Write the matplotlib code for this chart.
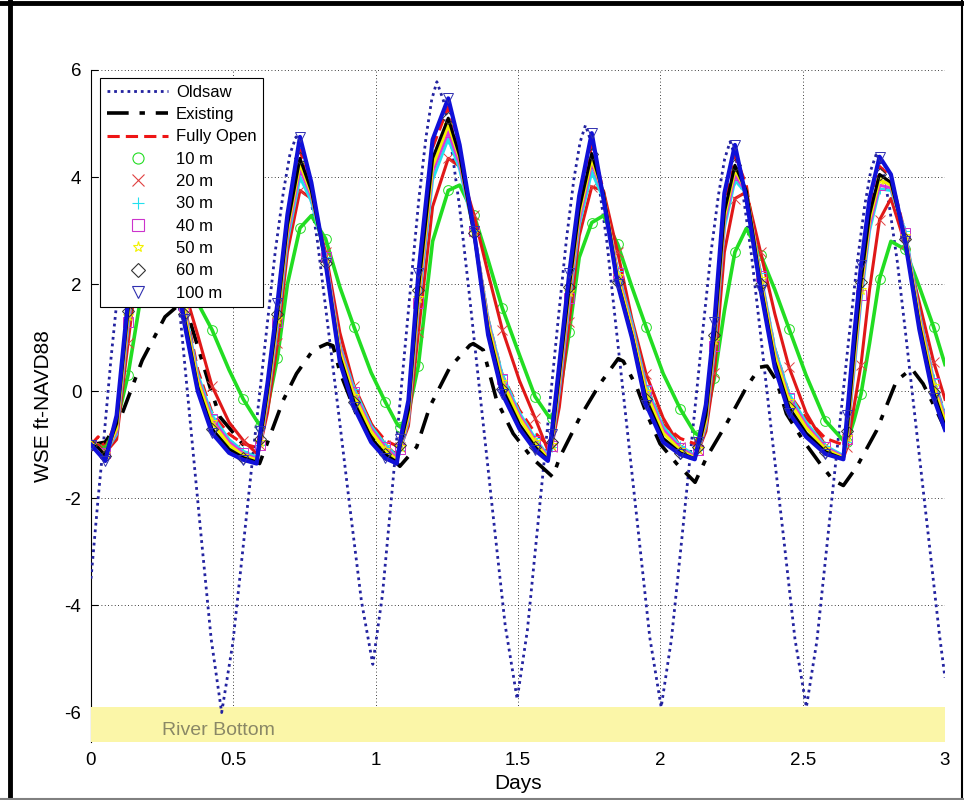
import matplotlib
matplotlib.use("Agg")
import matplotlib.pyplot as plt
from matplotlib.lines import Line2D
from matplotlib.patches import Rectangle

plt.rcParams['font.family'] = ['Liberation Sans', 'DejaVu Sans']

# ---------------- data ----------------
t_old = [0.0, 0.025, 0.045, 0.07, 0.095, 0.12, 0.15, 0.18, 0.21,
         0.230, 0.252, 0.280, 0.310, 0.347, 0.384, 0.422, 0.459,
         0.498, 0.537, 0.576, 0.616, 0.647, 0.676, 0.699, 0.72,
         0.742, 0.766, 0.796, 0.828, 0.869, 0.909, 0.950, 0.99,
         1.024, 1.058, 1.091, 1.125, 1.152, 1.177, 1.197, 1.215,
         1.238, 1.263, 1.294, 1.328, 1.370, 1.412, 1.455, 1.497,
         1.533, 1.569, 1.605, 1.641, 1.670, 1.696, 1.718, 1.737,
         1.758, 1.782, 1.812, 1.843, 1.883, 1.923, 1.963, 2.003,
         2.039, 2.076, 2.112, 2.148, 2.177, 2.204, 2.226, 2.245,
         2.266, 2.291, 2.320, 2.352, 2.392, 2.433, 2.473, 2.513,
         2.550, 2.587, 2.624, 2.661, 2.691, 2.718, 2.740, 2.76,
         2.781, 2.804, 2.833, 2.864, 2.903, 2.942, 2.981, 3.0]
wse_oldsaw = [-3.5, -2.0, -0.9, 0.6, 1.9, 3.1, 4.3, 5.1, 5.5,
              5.16, 4.41, 3.2, 1.59, -0.48, -2.55, -4.62, -6.0,
              -4.71, -2.78, -0.84, 1.10, 2.6, 3.73, 4.43, 4.75,
              4.45, 3.81, 2.78, 1.40, -0.37, -2.15, -3.92, -5.1,
              -3.79, -1.84, 0.12, 2.08, 3.60, 4.75, 5.45, 5.78,
              5.43, 4.68, 3.47, 1.86, -0.22, -2.29, -4.37, -5.75,
              -4.46, -2.53, -0.60, 1.33, 2.83, 3.95, 4.65, 4.97,
              4.64, 3.94, 2.80, 1.27, -0.68, -2.64, -4.60, -5.9,
              -4.63, -2.73, -0.83, 1.07, 2.55, 3.66, 4.34, 4.66,
              4.34, 3.66, 2.55, 1.07, -0.83, -2.73, -4.63, -5.9,
              -4.66, -2.79, -0.93, 0.93, 2.38, 3.47, 4.14, 4.45,
              4.14, 3.48, 2.40, 0.97, -0.88, -2.72, -4.57, -5.35]

t_exist = [0.0, 0.05, 0.1, 0.18, 0.26, 0.31, 0.34, 0.418, 0.453, 0.512, 0.57, 0.592,
           0.617, 0.675, 0.722, 0.78, 0.83, 0.85, 0.875, 0.93, 1.015, 1.085,
           1.144, 1.19, 1.261, 1.331, 1.343, 1.378, 1.425, 1.483, 1.55, 1.622,
           1.647, 1.718, 1.788, 1.852, 1.87, 1.917, 1.952, 1.999, 2.057, 2.122,
           2.163, 2.233, 2.303, 2.35, 2.375, 2.408, 2.443, 2.502, 2.561, 2.607, 2.643,
           2.69, 2.76, 2.83, 2.883, 2.923, 2.97, 3.0]
wse_existing = [-1.0, -0.95, -0.55, 0.58, 1.39, 1.62, 1.45, 0.08, -0.48, -0.85, -1.23, -1.35,
                -1.0, -0.17, 0.33, 0.77, 0.89, 0.85, 0.35, -0.4, -1.04, -1.4,
                -1.04, -0.29, 0.45, 0.86, 0.89, 0.77, -0.17, -0.79, -1.25, -1.6,
                -1.23, -0.48, 0.14, 0.61, 0.56, 0.08, -0.42, -0.98, -1.35, -1.7,
                -1.23, -0.6, 0.08, 0.45, 0.47, 0.2, -0.42, -0.92, -1.35, -1.66, -1.76,
                -1.41, -0.73, 0.2, 0.42, 0.14, -0.36, -0.7]

t_model = [0.0, 0.025, 0.05, 0.09, 0.13, 0.17, 0.225, 0.275, 0.325, 0.375, 0.425, 0.485, 0.535, 0.582,
           0.595, 0.62, 0.655, 0.69, 0.734, 0.774, 0.824, 0.874, 0.924, 0.984, 1.034, 1.074,
           1.087, 1.115, 1.15, 1.2, 1.255, 1.295, 1.345, 1.395, 1.445, 1.505, 1.56, 1.605,
           1.618, 1.645, 1.68, 1.715, 1.759, 1.8, 1.85, 1.9, 1.95, 2.01, 2.07, 2.121,
           2.134, 2.16, 2.19, 2.225, 2.262, 2.302, 2.352, 2.402, 2.452, 2.512, 2.58, 2.643,
           2.656, 2.68, 2.705, 2.735, 2.77, 2.81, 2.86, 2.91, 2.96, 3.0]

wse_fully_open = [-1.0, -0.85, -1.05, -0.55, 1.6, 3.3, 4.35, 3.3, 1.7, 0.4, -0.4, -0.8, -0.98, -1.05,
                  -0.75, 0.05, 1.55, 3.2, 4.5, 3.85, 2.45, 0.85, 0.05, -0.6, -0.92, -1.02,
                  -0.85, -0.25, 2.05, 4.55, 5.31, 4.55, 3.0, 1.35, 0.3, -0.35, -0.78, -1.0,
                  -0.85, 0.4, 2.05, 3.5, 4.6, 3.75, 2.2, 1.25, 0.1, -0.62, -0.88, -0.98,
                  -0.85, -0.35, 1.15, 3.55, 4.41, 3.85, 2.15, 0.8, -0.05, -0.5, -0.88, -1.0,
                  -0.6, 0.85, 2.2, 3.45, 4.2, 4.0, 2.95, 1.45, 0.22, -0.42]
wse_10m = [-1.0, -1.0, -1.1, -0.6, 0.3, 1.6, 2.9, 3.1, 2.3, 1.65, 1.15, 0.4, -0.15, -0.55,
           -0.64, -0.3, 0.62, 2.0, 3.05, 3.28, 2.85, 1.95, 1.2, 0.35, -0.2, -0.6,
           -0.67, -0.4, 0.48, 2.8, 3.75, 3.85, 3.3, 2.45, 1.55, 0.68, -0.1, -0.45,
           -0.5, -0.1, 1.1, 2.5, 3.15, 3.28, 2.75, 1.95, 1.2, 0.33, -0.33, -0.78,
           -0.82, -0.5, 0.25, 1.5, 2.6, 3.04, 2.55, 1.9, 1.17, 0.3, -0.55, -0.92,
           -0.95, -0.55, -0.05, 0.9, 2.1, 2.8, 2.65, 1.95, 1.2, 0.5]
wse_20m = [-1.0, -1.0, -1.15, -0.9, 0.9, 2.6, 3.7, 3.4, 1.95, 1.05, 0.1, -0.58, -0.92, -1.16,
           -1.0, -0.4, 0.9, 2.6, 3.75, 3.6, 2.6, 1.1, 0.1, -0.6, -1.0, -1.2,
           -1.05, -0.65, 1.1, 3.45, 4.35, 4.2, 3.3, 2.2, 1.15, 0.2, -0.5, -1.1,
           -1.05, -0.3, 1.3, 2.9, 3.82, 3.75, 2.6, 1.35, 0.32, -0.5, -1.04, -1.25,
           -1.1, -0.75, 0.35, 2.6, 3.6, 3.72, 2.6, 1.45, 0.45, -0.4, -1.02, -1.25,
           -1.05, -0.3, 0.5, 1.9, 3.2, 3.6, 2.75, 1.65, 0.55, -0.15]
wse_30m = [-1.0, -1.05, -1.15, -0.8, 1.2, 2.9, 3.9, 3.3, 1.65, 0.32, -0.45, -0.9, -1.12, -1.23,
           -1.0, -0.2, 1.2, 2.8, 4.0, 3.55, 2.5, 0.85, 0.05, -0.65, -1.0, -1.22,
           -1.1, -0.55, 1.55, 3.95, 4.72, 4.15, 3.0, 1.35, 0.3, -0.4, -0.88, -1.2,
           -1.05, 0.0, 1.65, 3.1, 4.1, 3.6, 2.25, 1.28, 0.1, -0.66, -1.02, -1.2,
           -1.1, -0.65, 0.75, 3.05, 3.94, 3.7, 2.2, 0.8, -0.05, -0.58, -1.02, -1.2,
           -0.95, 0.35, 1.7, 3.0, 3.78, 3.75, 3.0, 1.45, 0.22, -0.45]
wse_40m = [-1.0, -1.05, -1.15, -0.75, 1.3, 3.0, 4.0, 3.3, 1.6, 0.25, -0.52, -0.95, -1.16, -1.26,
           -1.0, -0.15, 1.3, 2.9, 4.15, 3.65, 2.5, 0.8, -0.02, -0.7, -1.05, -1.25,
           -1.08, -0.5, 1.65, 4.1, 4.85, 4.25, 3.0, 1.3, 0.22, -0.45, -0.92, -1.22,
           -1.03, 0.1, 1.75, 3.2, 4.26, 3.68, 2.2, 1.2, 0.03, -0.72, -1.06, -1.22,
           -1.1, -0.6, 0.85, 3.15, 4.04, 3.72, 2.15, 0.72, -0.13, -0.63, -1.05, -1.22,
           -0.9, 0.45, 1.8, 3.1, 3.85, 3.8, 2.95, 1.4, 0.15, -0.5]
wse_50m = [-1.0, -1.05, -1.18, -0.7, 1.4, 3.1, 4.1, 3.3, 1.55, 0.2, -0.58, -1.0, -1.2, -1.28,
           -0.95, -0.1, 1.35, 3.0, 4.25, 3.7, 2.45, 0.75, -0.08, -0.75, -1.1, -1.28,
           -1.05, -0.45, 1.75, 4.2, 4.97, 4.35, 2.98, 1.25, 0.18, -0.5, -0.95, -1.25,
           -1.0, 0.2, 1.85, 3.3, 4.33, 3.7, 2.15, 1.15, -0.02, -0.78, -1.1, -1.24,
           -1.08, -0.55, 0.95, 3.25, 4.13, 3.75, 2.1, 0.68, -0.18, -0.68, -1.08, -1.24,
           -0.85, 0.55, 1.9, 3.2, 3.95, 3.85, 2.9, 1.35, 0.1, -0.55]
wse_60m = [-1.0, -1.05, -1.2, -0.6, 1.5, 3.2, 4.2, 3.3, 1.45, 0.08, -0.7, -1.08, -1.24, -1.32,
           -0.9, 0.0, 1.45, 3.1, 4.35, 3.75, 2.4, 0.65, -0.2, -0.87, -1.18, -1.32,
           -1.0, -0.35, 1.9, 4.35, 5.1, 4.4, 2.95, 1.15, 0.05, -0.62, -1.04, -1.28,
           -0.95, 0.3, 1.95, 3.4, 4.44, 3.7, 2.05, 1.05, -0.15, -0.88, -1.15, -1.26,
           -1.05, -0.45, 1.05, 3.35, 4.22, 3.75, 2.0, 0.55, -0.3, -0.78, -1.13, -1.26,
           -0.75, 0.7, 2.05, 3.3, 4.05, 3.9, 2.85, 1.25, -0.02, -0.65]
wse_100m = [-1.0, -1.15, -1.3, -0.45, 1.7, 3.4, 4.5, 3.2, 1.35, 0.0, -0.78, -1.15, -1.28, -1.35,
            -0.75, 0.15, 1.65, 3.3, 4.75, 3.9, 2.4, 0.55, -0.3, -0.95, -1.25, -1.35,
            -0.9, -0.17, 2.2, 4.7, 5.47, 4.6, 3.0, 1.05, -0.05, -0.7, -1.1, -1.3,
            -0.8, 0.5, 2.2, 3.65, 4.82, 3.6, 2.0, 1.0, -0.25, -0.95, -1.18, -1.27,
            -0.95, -0.25, 1.3, 3.7, 4.6, 3.6, 1.9, 0.45, -0.4, -0.85, -1.17, -1.27,
            -0.45, 1.0, 2.35, 3.6, 4.38, 4.05, 2.8, 1.15, -0.12, -0.72]

x_ticks = [0, 0.5, 1, 1.5, 2, 2.5, 3]
x_ticklabels = ['0', '0.5', '1', '1.5', '2', '2.5', '3']
y_ticks = [-6, -4, -2, 0, 2, 4, 6]
y_ticklabels = ['-6', '-4', '-2', '0', '2', '4', '6']
river_bottom = -5.9

# ---------------- figure ----------------
fig = plt.figure(figsize=(9.64, 8.0), dpi=100)
fig.patch.set_facecolor('white')
W, H = 964.0, 800.0
ax = fig.add_axes([91 / W, 1 - 742 / H, (945 - 91) / W, (742 - 70) / H])
ax.set_xlim(0, 3)
ax.set_ylim(-6.55, 6)

# frame of the window
fig.add_artist(Line2D([9.5 / W, 9.5 / W], [0, 1], color='black', lw=3.5, transform=fig.transFigure))
fig.add_artist(Line2D([0, 1], [1 - 3.0 / H, 1 - 3.0 / H], color='black', lw=3.5, transform=fig.transFigure))
fig.add_artist(Line2D([961.5 / W, 961.5 / W], [0, 1], color='black', lw=1.5, transform=fig.transFigure))
fig.add_artist(Line2D([0, 1], [1.5 / H, 1.5 / H], color='#808080', lw=1.5, transform=fig.transFigure))

# river bottom band
ax.add_patch(Rectangle((0, -6.55), 3, 6.55 + river_bottom, facecolor='#fbf6a8',
                       edgecolor='none', zorder=3))
ax.text(0.25, -6.33, 'River Bottom', fontsize=14, color='#8a8866', va='center', ha='left', zorder=3.5)

lw_m = 2.2
mk = dict(markersize=7, markeredgewidth=0.7, markerfacecolor='none', zorder=4, markevery=2)
ax.plot(t_old, wse_oldsaw, color='#2323a0', lw=2.0, linestyle=(0, (1, 1.4)), zorder=4)
ax.plot(t_exist, wse_existing, color='black', lw=2.6, linestyle=(0, (6, 3, 1.5, 3)), zorder=4)
ax.plot(t_model, wse_fully_open, color='#ee1515', lw=2.2, linestyle=(0, (4, 2)), zorder=4)
ax.plot(t_model, wse_10m, color='#22dd22', lw=2.6, marker='o', markeredgecolor='#22dd22', **mk)
ax.plot(t_model, wse_20m, color='#e01818', lw=lw_m, marker='x', markeredgecolor='#e04040', **mk)
ax.plot(t_model, wse_30m, color='#22e0ee', lw=lw_m, marker='+', markeredgecolor='#22e0ee', **mk)
ax.plot(t_model, wse_40m, color='#dd33dd', lw=lw_m, marker='s', markeredgecolor='#cc33cc', **mk)
ax.plot(t_model, wse_50m, color='#f2f200', lw=lw_m, marker='*', markeredgecolor='#f2f200', **mk)
ax.plot(t_model, wse_60m, color='black', lw=lw_m, marker='D', markeredgecolor='#333333',
        markersize=6, markeredgewidth=0.7, markerfacecolor='none', zorder=4, markevery=2)
ax.plot(t_model, wse_100m, color='#1010d8', lw=3.0, marker='v', markeredgecolor='#3030b0', **mk)

# axes styling
ax.set_xticks(x_ticks)
ax.set_xticklabels(x_ticklabels)
ax.set_yticks(y_ticks)
ax.set_yticklabels(y_ticklabels)
ax.tick_params(direction='in', length=5, width=0.8, labelsize=13.5, pad=7,
               top=False, right=False, bottom=False)
ax.grid(True, color='black', linestyle=(0, (1, 3)), linewidth=0.6)
ax.set_axisbelow(True)
for side in ['top', 'right', 'bottom']:
    ax.spines[side].set_visible(False)
ax.spines['left'].set_linewidth(0.8)
ax.set_xlabel('Days', fontsize=15, labelpad=4)
ax.set_ylabel('WSE ft-NAVD88', fontsize=15, labelpad=8)

# legend
handles = [
    Line2D([], [], color='#2323a0', lw=2.0, linestyle=(0, (1, 1.4))),
    Line2D([], [], color='black', lw=2.6, linestyle=(0, (6, 3, 1.5, 3))),
    Line2D([], [], color='#ee1515', lw=2.2, linestyle=(0, (4, 2))),
    Line2D([], [], linestyle='none', marker='o', markeredgecolor='#22dd22', markerfacecolor='none', markersize=8, markeredgewidth=0.8),
    Line2D([], [], linestyle='none', marker='x', markeredgecolor='#e04040', markersize=8, markeredgewidth=0.8),
    Line2D([], [], linestyle='none', marker='+', markeredgecolor='#22e0ee', markersize=8, markeredgewidth=0.8),
    Line2D([], [], linestyle='none', marker='s', markeredgecolor='#cc33cc', markerfacecolor='none', markersize=8, markeredgewidth=0.8),
    Line2D([], [], linestyle='none', marker='*', markeredgecolor='#f2f200', markerfacecolor='none', markersize=8, markeredgewidth=0.8),
    Line2D([], [], linestyle='none', marker='D', markeredgecolor='#333333', markerfacecolor='none', markersize=7, markeredgewidth=0.8),
    Line2D([], [], linestyle='none', marker='v', markeredgecolor='#3030b0', markerfacecolor='none', markersize=8, markeredgewidth=0.8),
]
labels = ['Oldsaw', 'Existing', 'Fully Open', '10 m', '20 m', '30 m', '40 m', '50 m', '60 m', '100 m']
leg = ax.legend(handles, labels, loc='upper left', bbox_to_anchor=(9 / 854, (742 - 78) / 672),
                fontsize=12, frameon=True, fancybox=False, edgecolor='black', framealpha=1,
                handlelength=3.7, handletextpad=0.45, labelspacing=0.44, borderpad=0.4,
                borderaxespad=0.0)
leg.get_frame().set_linewidth(0.8)
leg.set_zorder(10)

fig.savefig('out.png', dpi=100, facecolor='white')
